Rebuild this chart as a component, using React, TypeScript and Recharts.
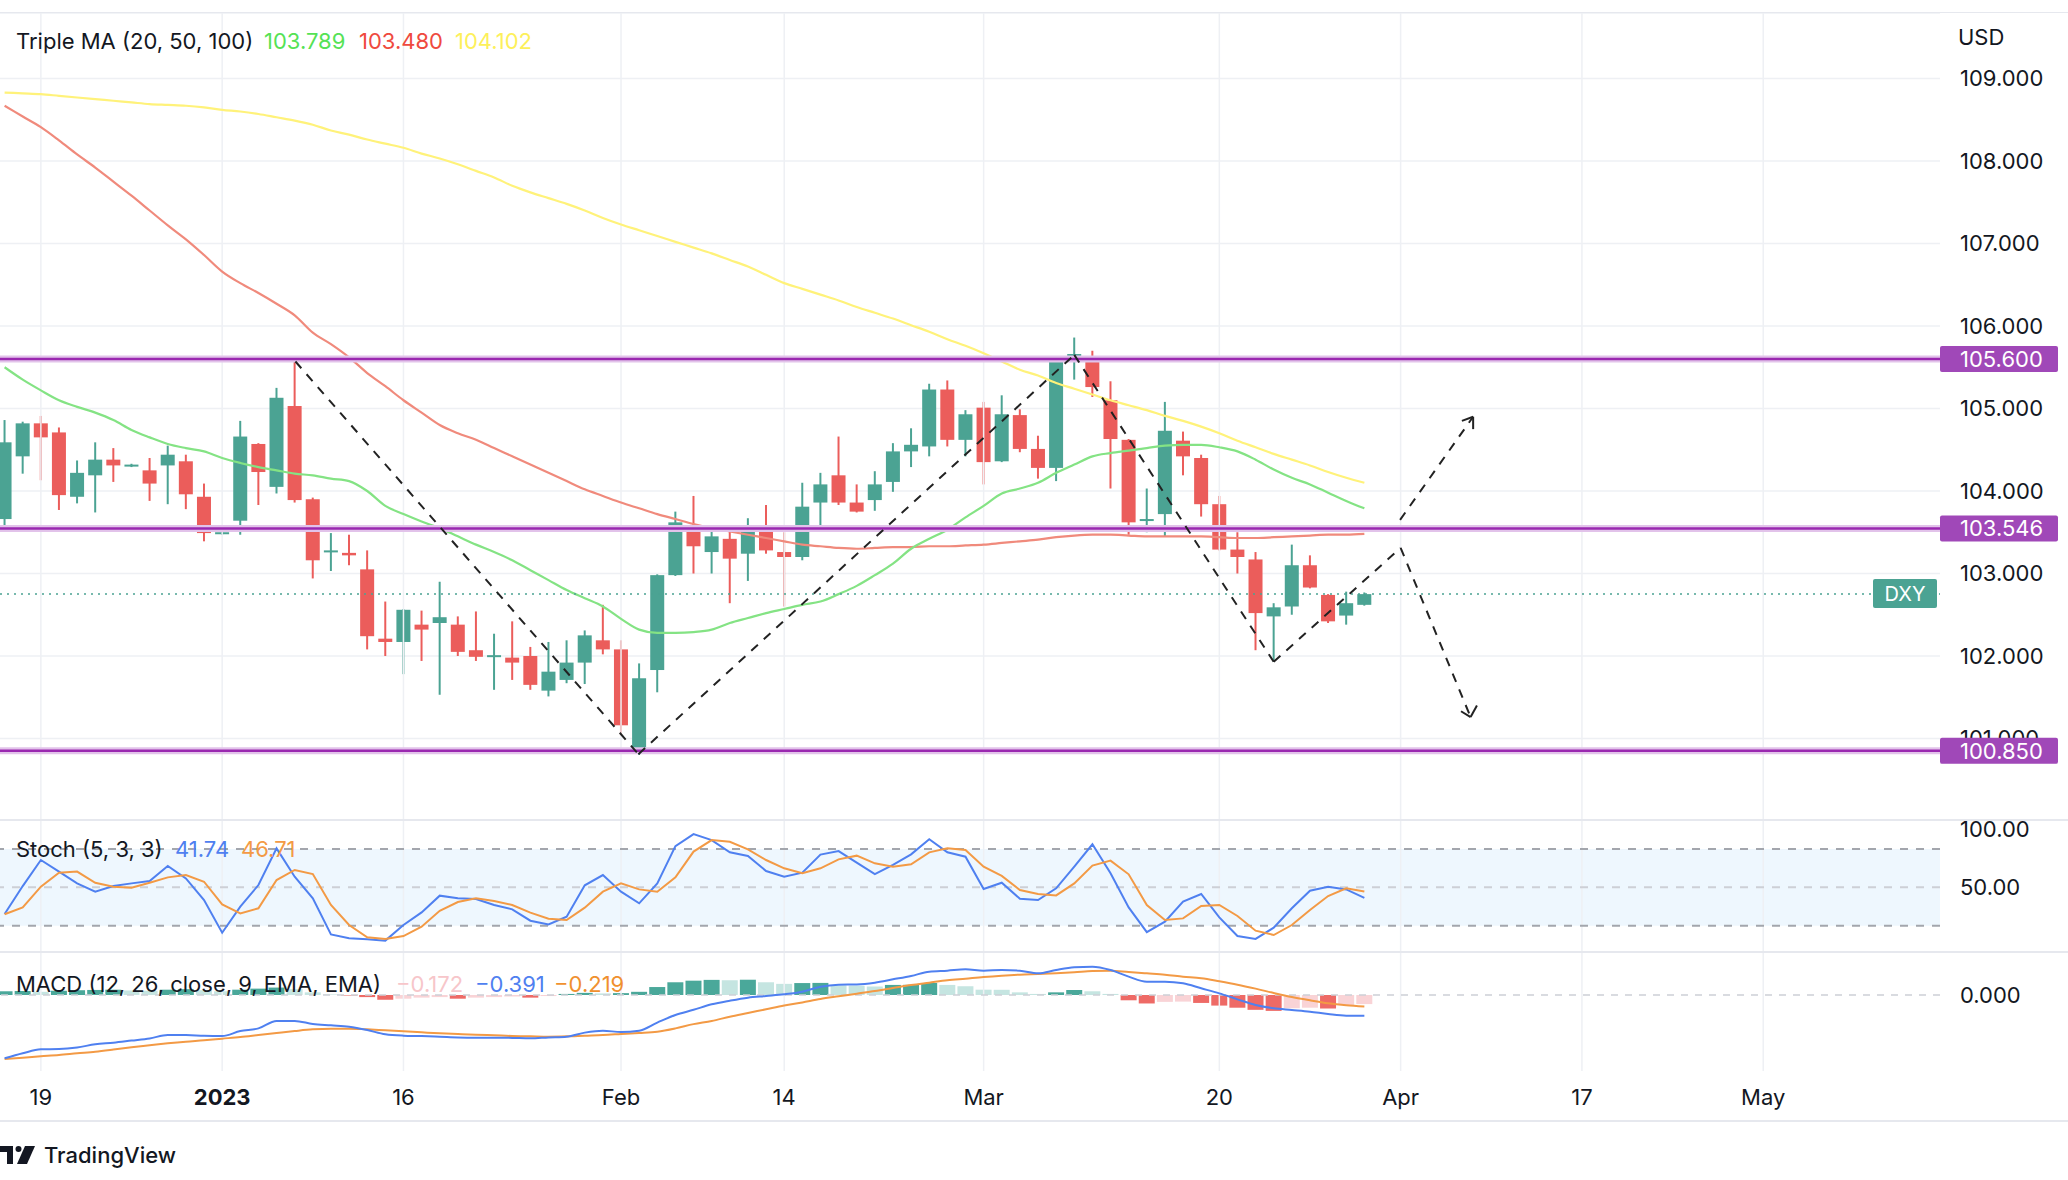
import React from "react";
import {
  Bar,
  CartesianGrid,
  Cell,
  ComposedChart,
  Line,
  ReferenceArea,
  ReferenceLine,
  XAxis,
  YAxis,
} from "recharts";

const FONT = "Inter, 'Noto Sans', sans-serif";
const INK = "#131722";
const UP = "#4ba393";
const DOWN = "#eb5d5b";
const PURPLE = "#9a28b0";
const PURPLE_HALO = "#e2c3ea";
const PURPLE_TAG = "#a048b8";

// bar index 0 = Thu 15 Dec 2022, one slot per weekday
const tickIndex = [2, 12, 22, 34, 43, 54, 67, 77, 87, 97];
const tickLabels = ["19", "2023", "16", "Feb", "14", "Mar", "20", "Apr", "17", "May"];
const priceTicks = [101, 102, 103, 104, 105, 106, 107, 108, 109];

const opens = [
  103.66, 104.42, 104.82, 104.71, 103.93, 104.19, 104.38, 104.3, 104.25, 104.31,
  104.36, 103.93, 103.48, 103.64, 104.57, 104.05, 105.03, 103.9, 103.26, 103.25,
  103.05, 102.21, 102.17, 102.38, 102.4, 102.38, 102.07, 101.99, 101.98, 102.0,
  101.58, 101.71, 101.92, 102.19, 102.08, 100.85, 101.83, 102.98, 103.54, 103.26,
  103.42, 103.24, 103.57, 103.26, 103.2, 103.86, 104.19, 103.86, 103.89, 104.11,
  104.48, 104.54, 105.23, 104.62, 105.01, 104.36, 104.92, 104.51, 104.28, 105.63,
  105.6, 105.1, 104.62, 103.65, 103.72, 104.61, 104.4, 103.84, 103.29, 103.17,
  102.48, 102.6, 103.1, 102.74, 102.49, 102.62,
];
const highs = [
  104.86, 104.84, 104.91, 104.77, 104.37, 104.59, 104.52, 104.33, 104.4, 104.55,
  104.44, 104.09, 103.51, 104.85, 104.58, 105.25, 105.6, 103.92, 103.49, 103.47,
  103.28, 102.66, 102.57, 102.55, 102.9, 102.48, 102.54, 102.27, 102.42, 102.11,
  102.17, 102.19, 102.31, 102.62, 102.19, 101.91, 102.99, 103.75, 103.94, 103.53,
  103.51, 103.67, 103.83, 103.5, 104.1, 104.22, 104.66, 104.08, 104.24, 104.58,
  104.76, 105.3, 105.34, 104.98, 105.08, 105.16, 104.99, 104.67, 105.63, 105.86,
  105.7, 105.33, 104.63, 104.03, 105.08, 104.72, 104.44, 103.94, 103.5, 103.26,
  102.64, 103.35, 103.22, 102.75, 102.78, 102.77,
];
const lows = [
  103.55, 104.21, 104.13, 103.77, 103.85, 103.74, 104.11, 104.29, 103.88, 103.84,
  103.78, 103.39, 103.47, 103.47, 103.83, 103.97, 103.86, 102.94, 103.03, 103.1,
  102.08, 102.0, 101.78, 101.94, 101.53, 102.0, 101.94, 101.59, 101.71, 101.59,
  101.51, 101.67, 101.66, 102.02, 101.04, 100.8, 101.56, 102.97, 103.0, 103.0,
  102.64, 102.91, 103.24, 102.6, 103.16, 103.53, 103.83, 103.74, 103.76, 103.99,
  104.29, 104.42, 104.54, 104.42, 104.08, 104.35, 104.47, 104.15, 104.12, 105.35,
  105.14, 104.03, 103.47, 103.5, 103.45, 104.19, 103.69, 103.28, 103.0, 102.07,
  101.93, 102.5, 102.82, 102.4, 102.38, 102.61,
];
const closes = [
  104.59, 104.82, 104.65, 103.95, 104.22, 104.38, 104.31, 104.32, 104.09, 104.44,
  103.96, 103.49, 103.5, 104.66, 104.23, 105.13, 103.89, 103.16, 103.28, 103.22,
  102.24, 102.17, 102.56, 102.32, 102.47, 102.05, 101.99, 102.01, 101.92, 101.65,
  101.81, 101.92, 102.25, 102.08, 101.16, 101.73, 102.98, 103.62, 103.33, 103.45,
  103.18, 103.57, 103.28, 103.2, 103.81, 104.08, 103.86, 103.75, 104.08, 104.48,
  104.56, 105.23, 104.62, 104.93, 104.35, 104.93, 104.51, 104.28, 105.6, 105.66,
  105.26, 104.63, 103.62, 103.66, 104.73, 104.42, 103.84, 103.29, 103.2, 102.52,
  102.59, 103.1, 102.83, 102.42, 102.64, 102.75,
];

const ma20 = [
  105.5, 105.35, 105.22, 105.1, 105.02, 104.95, 104.86, 104.74, 104.65, 104.57,
  104.52, 104.48, 104.4, 104.34, 104.29, 104.25, 104.21, 104.19, 104.15, 104.12,
  104.0, 103.82, 103.72, 103.63, 103.55, 103.45, 103.35, 103.26, 103.16, 103.04,
  102.92, 102.8, 102.7, 102.6, 102.45, 102.32, 102.28, 102.28, 102.29, 102.32,
  102.4, 102.46, 102.52, 102.57, 102.62, 102.66, 102.75, 102.85, 102.98, 103.12,
  103.3, 103.42, 103.53, 103.68, 103.82, 103.97, 104.03, 104.1, 104.22, 104.32,
  104.42, 104.46, 104.49, 104.52, 104.55, 104.56, 104.56, 104.53, 104.48, 104.38,
  104.26, 104.16, 104.08, 103.98, 103.88, 103.79,
];
const ma50 = [
  108.67, 108.54, 108.41, 108.25, 108.08, 107.92, 107.75, 107.58, 107.4, 107.22,
  107.05, 106.86, 106.66, 106.52, 106.4, 106.27, 106.13, 105.92, 105.78, 105.62,
  105.43, 105.27, 105.1, 104.95, 104.8, 104.7, 104.62, 104.52, 104.42, 104.32,
  104.22, 104.12, 104.02, 103.94, 103.86, 103.79, 103.72, 103.66, 103.6, 103.55,
  103.51, 103.47, 103.43, 103.39, 103.35, 103.33, 103.31, 103.3, 103.31, 103.32,
  103.32, 103.33, 103.33, 103.34, 103.35, 103.37, 103.39, 103.41, 103.44, 103.46,
  103.47, 103.47, 103.46, 103.45, 103.45, 103.45, 103.45, 103.44, 103.43, 103.43,
  103.44, 103.45, 103.46, 103.47, 103.47, 103.48,
];
const ma100 = [
  108.83, 108.82, 108.81, 108.79, 108.77, 108.75, 108.73, 108.71, 108.69, 108.68,
  108.67, 108.65, 108.62, 108.6, 108.57, 108.53, 108.49, 108.44, 108.37, 108.32,
  108.26, 108.21, 108.16, 108.09, 108.03, 107.96, 107.88, 107.8, 107.7, 107.62,
  107.55, 107.48, 107.4, 107.31, 107.23, 107.16, 107.09, 107.02, 106.95, 106.88,
  106.8, 106.72, 106.62, 106.52, 106.45, 106.38, 106.31, 106.23, 106.16, 106.09,
  106.01, 105.93, 105.84, 105.76, 105.67, 105.57, 105.47, 105.4, 105.31, 105.24,
  105.17, 105.1, 105.04, 104.98, 104.91, 104.85, 104.78, 104.7, 104.61, 104.53,
  104.45, 104.38, 104.31, 104.23, 104.16, 104.1,
];

const stochK = [
  29.1, 51, 71.4, 62.3, 53.1, 46.6, 51.0, 53.1, 55.0, 66.7,
  57.0, 40.1, 14.5, 34.9, 51.8, 80.5, 58.3, 41.4, 13.2, 10.1,
  9.3, 8.3, 20.5, 30.4, 43.5, 41.4, 40.9, 36.2, 32.8, 23.9,
  21.0, 27.0, 51.6, 59.6, 46.6, 37.5, 53.1, 82.3, 91.7, 87.0,
  77.4, 74.5, 62.8, 58.3, 61.5, 75.6, 78.4, 69.3, 60.4, 67.5,
  75.8, 87.6, 77.4, 74.0, 48.7, 53.6, 41.1, 40.1, 49.2, 66.2,
  83.7, 61.0, 34.3, 15.0, 23.1, 38.8, 44.8, 26.5, 11.9, 9.6,
  18.4, 33.6, 47.4, 50.5, 48.4, 41.74,
];
const stochD = [
  28.9, 34.3, 50.5, 61.5, 62.3, 53.6, 50.5, 49.7, 53.6, 57.8,
  59.6, 54.4, 36.7, 29.6, 33.6, 55.7, 63.6, 60.4, 36.2, 20.5,
  10.9, 9.6, 11.9, 19.2, 31.7, 38.5, 41.4, 39.3, 36.2, 30.2,
  25.5, 24.4, 34.1, 46.6, 53.1, 48.4, 46.6, 57.8, 78.0, 87.0,
  85.7, 79.7, 71.4, 64.9, 61.0, 64.9, 71.9, 74.8, 68.8, 66.2,
  68.0, 77.4, 80.5, 79.2, 66.2, 58.9, 47.9, 44.8, 43.7, 53.1,
  67.0, 70.9, 60.2, 36.2, 24.4, 25.7, 35.4, 36.2, 27.6, 16.1,
  12.7, 20.5, 32.3, 43.2, 49.2, 46.71,
];

const macdLine = [
  -1.195, -1.1, -1.025, -1.02, -0.99, -0.93, -0.9, -0.86, -0.82, -0.755,
  -0.755, -0.77, -0.774, -0.68, -0.63, -0.49, -0.49, -0.547, -0.572, -0.598,
  -0.66, -0.742, -0.767, -0.774, -0.786, -0.8, -0.805, -0.805, -0.81, -0.818,
  -0.8, -0.786, -0.71, -0.673, -0.7, -0.673, -0.52, -0.377, -0.28, -0.176,
  -0.107, -0.05, -0.019, 0.013, 0.063, 0.157, 0.195, 0.2, 0.233, 0.295,
  0.358, 0.44, 0.459, 0.484, 0.459, 0.472, 0.459, 0.409, 0.472, 0.522,
  0.535, 0.472, 0.346, 0.252, 0.252, 0.22, 0.126, 0.031, -0.082, -0.189,
  -0.252, -0.283, -0.315, -0.359, -0.39, -0.391,
];
const signalLine = [
  -1.208, -1.183, -1.157, -1.132, -1.1, -1.07, -1.03, -0.987, -0.95, -0.912,
  -0.88, -0.855, -0.824, -0.793, -0.755, -0.717, -0.68, -0.648, -0.635, -0.635,
  -0.648, -0.667, -0.686, -0.705, -0.723, -0.736, -0.75, -0.761, -0.774, -0.78,
  -0.786, -0.78, -0.767, -0.755, -0.736, -0.717, -0.692, -0.63, -0.55, -0.49,
  -0.41, -0.34, -0.27, -0.2, -0.14, -0.076, -0.025, 0.025, 0.075, 0.132,
  0.189, 0.233, 0.277, 0.308, 0.34, 0.365, 0.384, 0.396, 0.409, 0.428,
  0.453, 0.459, 0.434, 0.409, 0.384, 0.346, 0.315, 0.258, 0.195, 0.12,
  0.038, -0.038, -0.101, -0.157, -0.195, -0.219,
];
const macdHist = [
  0.07, 0.075, 0.06, 0.08, 0.09, 0.095, 0.1, 0.085, 0.08, 0.1,
  0.11, 0.09, 0.07, 0.1, 0.12, 0.14, 0.11, 0.05, 0.01, -0.01,
  -0.04, -0.09, -0.07, -0.05, -0.04, -0.07, -0.05, -0.04, -0.03, -0.05,
  -0.02, 0.02, 0.04, 0.03, 0.035, 0.06, 0.15, 0.24, 0.27, 0.285,
  0.278, 0.288, 0.24, 0.21, 0.225, 0.228, 0.18, 0.175, 0.16, 0.19,
  0.192, 0.226, 0.19, 0.165, 0.1, 0.098, 0.05, 0.02, 0.05, 0.094,
  0.07, 0.02, -0.1, -0.16, -0.13, -0.125, -0.15, -0.2, -0.24, -0.28,
  -0.3, -0.25, -0.24, -0.255, -0.19, -0.172,
];

const levels = [105.6, 103.546, 100.85];
const lastPrice = 102.75;

// hand drawn dashed path: [x1, price1, x2, price2] in bar index / price
const trendSegments = [
  [16.04, 105.57, 34.96, 100.81],
  [34.96, 100.81, 59.0, 105.65],
  [59.0, 105.65, 70.0, 101.93],
  [70.0, 101.93, 77.0, 103.31],
  [77.0, 103.31, 80.86, 101.26],
  [76.97, 103.65, 81.0, 104.9],
];
// arrow heads, solid strokes
const arrowHeads = [
  [80.86, 101.26, 80.33, 101.33],
  [80.86, 101.26, 81.21, 101.4],
  [81.0, 104.9, 80.38, 104.85],
  [81.0, 104.9, 81.0, 104.75],
];

const X_DOMAIN: [number, number] = [-0.254, 106.75];
const PRICE_DOMAIN: [number, number] = [100.012, 109.794];
const STOCH_DOMAIN: [number, number] = [-0.6, 102.7];
const MACD_DOMAIN: [number, number] = [-1.434, 0.811];

const W = 2068;
const AXIS_W = 128;
const noMargin = { top: 0, right: 0, bottom: 0, left: 0 };
const gridColor = "#eef0f4";

function Candle(props: any) {
  const { x, y, width, height, payload } = props;
  if (!payload || payload.high == null) return null;
  const top = Math.min(y, y + height);
  const h = Math.abs(height);
  const span = payload.high - payload.low;
  const k = span > 0 ? h / span : 0;
  const py = (v: number) => top + (payload.high - v) * k;
  const color = payload.close >= payload.open ? UP : DOWN;
  const cx = x + width / 2;
  const bodyTop = py(Math.max(payload.open, payload.close));
  const bodyH = Math.max(2, Math.abs(py(payload.open) - py(payload.close)));
  return (
    <g>
      <line x1={cx} x2={cx} y1={top} y2={top + h} stroke={color} strokeWidth={2} />
      <rect x={x} y={bodyTop} width={width} height={bodyH} fill={color} />
    </g>
  );
}

function axisTick(digits: number) {
  return (props: any) => (
    <text x={props.x} y={props.y} dy="0.36em" fill={INK} fontSize={22} fontFamily={FONT}>
      {Number(props.payload.value).toFixed(digits)}
    </text>
  );
}

function TimeTick(props: any) {
  const idx = tickIndex.indexOf(props.payload.value);
  const label = tickLabels[idx] ?? "";
  return (
    <text
      x={props.x}
      y={props.y}
      dy="0.36em"
      textAnchor="middle"
      fill={INK}
      fontSize={22}
      fontFamily={FONT}
      fontWeight={label === "2023" ? 700 : 400}
    >
      {label}
    </text>
  );
}

function levelTag(value: number) {
  return (props: any) => {
    const vb = props.viewBox;
    if (!vb) return null;
    const right = vb.x + vb.width;
    return (
      <g>
        <rect x={right} y={vb.y - 13} width={118} height={26} rx={2} fill={PURPLE_TAG} />
        <text x={right + 20} y={vb.y} dy="0.36em" fill="#fff" fontSize={22} fontFamily={FONT}>
          {value.toFixed(3)}
        </text>
      </g>
    );
  };
}

function symbolTag(props: any) {
  const vb = props.viewBox;
  if (!vb) return null;
  const right = vb.x + vb.width;
  return (
    <g>
      <rect x={right - 67} y={vb.y - 15} width={64} height={29} rx={2} fill={UP} />
      <text x={right - 35} y={vb.y} dy="0.36em" textAnchor="middle" fill="#fff" fontSize={20} fontFamily={FONT}>
        DXY
      </text>
    </g>
  );
}

function histColor(v: number, idx: number) {
  const prev = idx > 0 ? macdHist[idx - 1] : v;
  if (v >= 0) return v >= prev ? "#4aa89a" : "#c5e5e1";
  return v <= prev ? "#ee6a66" : "#f9d3d6";
}

function Txt({ x, y, color = INK, weight = 400, size = 22, children }: any) {
  return (
    <div
      style={{
        position: "absolute",
        left: x,
        top: y - 14,
        height: 28,
        lineHeight: "28px",
        fontSize: size,
        color,
        fontWeight: weight,
        whiteSpace: "nowrap",
      }}
    >
      {children}
    </div>
  );
}

function Sep({ y, h = 2 }: { y: number; h?: number }) {
  return <div style={{ position: "absolute", left: 0, top: y, width: W, height: h, background: "#e6e8ee" }} />;
}

// faint vertical date grid, drawn through the x scale
const dateGrid = tickIndex.map((t) => (
  <ReferenceLine key={`vg${t}`} x={t} stroke={gridColor} strokeWidth={1.5} />
));

const rightAxis = {
  orientation: "right" as const,
  width: AXIS_W,
  allowDataOverflow: true,
  axisLine: false,
  tickLine: false,
  tickSize: 0,
  tickMargin: 20,
  stroke: "none",
};

export default function App() {
  const rows = opens.map((open, i) => ({
    i,
    open,
    high: highs[i],
    low: lows[i],
    close: closes[i],
    ma20: ma20[i],
    ma50: ma50[i],
    ma100: ma100[i],
    k: stochK[i],
    d: stochD[i],
    macd: macdLine[i],
    signal: signalLine[i],
    hist: macdHist[i],
  }));

  return (
    <div style={{ position: "relative", width: W, height: 1180, background: "#fff", fontFamily: FONT, overflow: "hidden" }}>
      <style>{"body{margin:0;background:#fff}"}</style>

      {/* price pane: series and price scale */}
      <div style={{ position: "absolute", left: 0, top: 13 }}>
        <ComposedChart width={W} height={807} data={rows} margin={noMargin}>
          <CartesianGrid stroke={gridColor} strokeWidth={1.5} vertical={false} />
          <XAxis type="number" dataKey="i" domain={X_DOMAIN} allowDataOverflow hide />
          <YAxis {...rightAxis} domain={PRICE_DOMAIN} ticks={priceTicks} tick={axisTick(3)} />
          {dateGrid}
          <Bar dataKey={(r: any) => [r.low, r.high]} barSize={14} shape={<Candle />} isAnimationActive={false} />
          <Line dataKey="ma100" type="monotone" stroke="#fff27a" strokeWidth={2.2} dot={false} activeDot={false} isAnimationActive={false} />
          <Line dataKey="ma50" type="monotone" stroke="#f08a7c" strokeWidth={2.2} dot={false} activeDot={false} isAnimationActive={false} />
          <Line dataKey="ma20" type="monotone" stroke="#84e384" strokeWidth={2.2} dot={false} activeDot={false} isAnimationActive={false} />
        </ComposedChart>
      </div>

      {/* price pane: drawings and price tags on top */}
      <div style={{ position: "absolute", left: 0, top: 13 }}>
        <ComposedChart width={W} height={807} data={rows} margin={{ top: 0, right: AXIS_W, bottom: 0, left: 0 }}>
          <XAxis type="number" dataKey="i" domain={X_DOMAIN} allowDataOverflow hide />
          <YAxis domain={PRICE_DOMAIN} allowDataOverflow hide />
          <ReferenceLine y={lastPrice} stroke={UP} strokeWidth={1.5} strokeDasharray="2 5" label={symbolTag} />
          {levels.map((lv) => (
            <ReferenceLine key={`h${lv}`} y={lv} stroke={PURPLE_HALO} strokeWidth={7} />
          ))}
          {levels.map((lv) => (
            <ReferenceLine key={`l${lv}`} y={lv} stroke={PURPLE} strokeWidth={2.5} label={levelTag(lv)} />
          ))}
          {trendSegments.map((s, n) => (
            <ReferenceLine
              key={`t${n}`}
              segment={[
                { x: s[0], y: s[1] },
                { x: s[2], y: s[3] },
              ]}
              stroke="#222"
              strokeWidth={2}
              strokeDasharray="9 8"
              ifOverflow="visible"
            />
          ))}
          {arrowHeads.map((s, n) => (
            <ReferenceLine
              key={`a${n}`}
              segment={[
                { x: s[0], y: s[1] },
                { x: s[2], y: s[3] },
              ]}
              stroke="#222"
              strokeWidth={2}
              ifOverflow="visible"
            />
          ))}
        </ComposedChart>
      </div>

      {/* stochastic pane */}
      <div style={{ position: "absolute", left: 0, top: 820 }}>
        <ComposedChart width={W} height={132} data={rows} margin={noMargin}>
          <XAxis type="number" dataKey="i" domain={X_DOMAIN} allowDataOverflow hide />
          <YAxis {...rightAxis} domain={STOCH_DOMAIN} ticks={[50, 100]} tick={axisTick(2)} />
          <ReferenceArea y1={20} y2={80} fill="#2196f3" fillOpacity={0.08} stroke="none" />
          {dateGrid}
          <ReferenceLine y={80} stroke="#a3a6ad" strokeWidth={2} strokeDasharray="8 8" />
          <ReferenceLine y={50} stroke="#cdd0d6" strokeWidth={2} strokeDasharray="8 8" />
          <ReferenceLine y={20} stroke="#a3a6ad" strokeWidth={2} strokeDasharray="8 8" />
          <Line dataKey="k" type="linear" stroke="#4f80f0" strokeWidth={2} dot={false} activeDot={false} isAnimationActive={false} />
          <Line dataKey="d" type="linear" stroke="#f39a45" strokeWidth={2} dot={false} activeDot={false} isAnimationActive={false} />
        </ComposedChart>
      </div>

      {/* MACD pane + time axis */}
      <div style={{ position: "absolute", left: 0, top: 952 }}>
        <ComposedChart width={W} height={169} data={rows} margin={noMargin}>
          <XAxis
            type="number"
            dataKey="i"
            domain={X_DOMAIN}
            ticks={tickIndex}
            interval={0}
            allowDataOverflow
            height={50}
            axisLine={false}
            tickLine={false}
            tickSize={0}
            tickMargin={26}
            stroke="none"
            tick={<TimeTick />}
          />
          <YAxis {...rightAxis} domain={MACD_DOMAIN} ticks={[0]} tick={axisTick(3)} />
          {dateGrid}
          <ReferenceLine y={0} stroke="#cdd0d6" strokeWidth={1.5} strokeDasharray="7 7" />
          <Bar dataKey="hist" barSize={16} isAnimationActive={false}>
            {macdHist.map((v, idx) => (
              <Cell key={idx} fill={histColor(v, idx)} />
            ))}
          </Bar>
          <Line dataKey="signal" type="monotone" stroke="#f39a45" strokeWidth={2} dot={false} activeDot={false} isAnimationActive={false} />
          <Line dataKey="macd" type="monotone" stroke="#4f80f0" strokeWidth={2} dot={false} activeDot={false} isAnimationActive={false} />
        </ComposedChart>
      </div>

      <Sep y={12} h={1} />
      <Sep y={819} />
      <Sep y={951} />
      <Sep y={1120} />

      <Txt x={1958} y={37}>USD</Txt>

      <Txt x={16} y={41}>Triple MA (20, 50, 100)</Txt>
      <Txt x={264} y={41} color="#55e255">103.789</Txt>
      <Txt x={359} y={41} color="#ef4a3e">103.480</Txt>
      <Txt x={455} y={41} color="#fdf05a">104.102</Txt>

      <Txt x={16} y={849}>Stoch (5, 3, 3)</Txt>
      <Txt x={175} y={849} color="#4f80f0">41.74</Txt>
      <Txt x={241} y={849} color="#f39a45">46.71</Txt>

      <Txt x={16} y={984}>MACD (12, 26, close, 9, EMA, EMA)</Txt>
      <Txt x={396} y={984} color="#f7c6ca">−0.172</Txt>
      <Txt x={475} y={984} color="#4f80f0">−0.391</Txt>
      <Txt x={554} y={984} color="#f0902e">−0.219</Txt>

      <svg style={{ position: "absolute", left: 0, top: 1143 }} width={40} height={24}>
        <path d="M0 3 H13 V21 H7 V9 H0 Z" fill={INK} />
        <circle cx={18.5} cy={6} r={3} fill={INK} />
        <path d="M25 3 H35 L27 21 H17 Z" fill={INK} />
      </svg>
      <Txt x={44} y={1155} weight={500}>TradingView</Txt>
    </div>
  );
}
